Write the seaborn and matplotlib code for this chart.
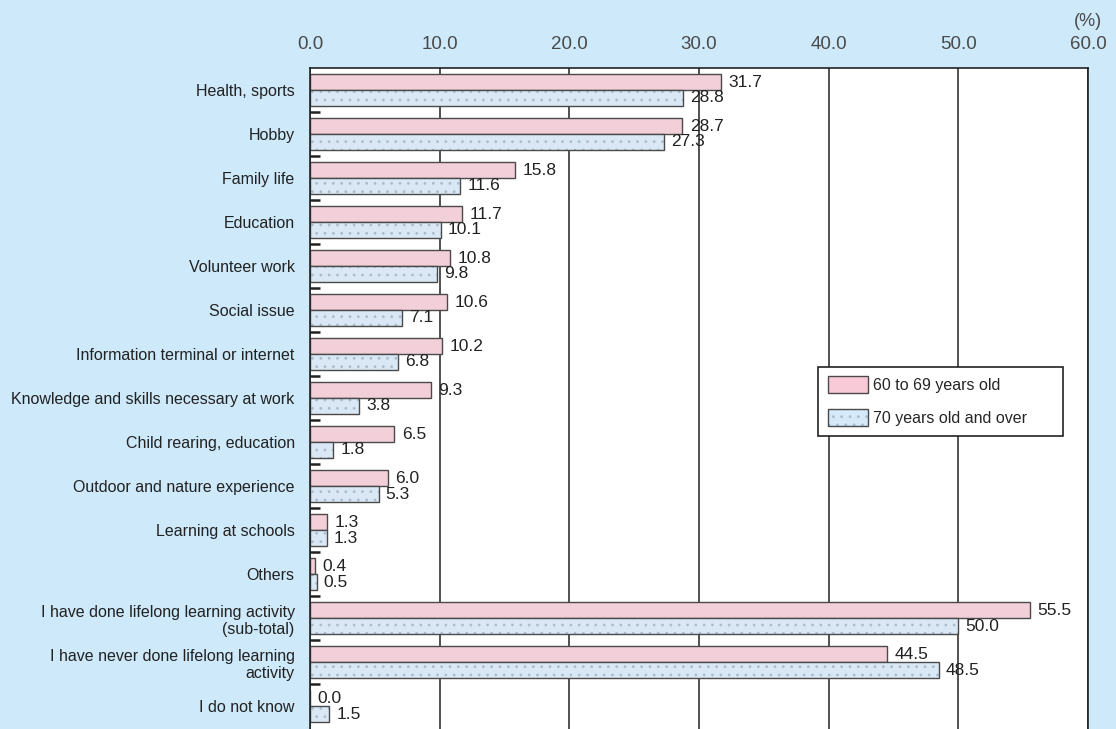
import numpy as np
import pandas as pd
import matplotlib
matplotlib.use("Agg")
import matplotlib.pyplot as plt
from matplotlib.patches import Patch, Rectangle
import seaborn as sns

categories = [
    "Health, sports",
    "Hobby",
    "Family life",
    "Education",
    "Volunteer work",
    "Social issue",
    "Information terminal or internet",
    "Knowledge and skills necessary at work",
    "Child rearing, education",
    "Outdoor and nature experience",
    "Learning at schools",
    "Others",
    "I have done lifelong learning activity\n(sub-total)",
    "I have never done lifelong learning\nactivity",
    "I do not know",
]
groups = ["60 to 69 years old", "70 years old and over"]
values_60s = [31.7, 28.7, 15.8, 11.7, 10.8, 10.6, 10.2, 9.3, 6.5, 6.0, 1.3, 0.4, 55.5, 44.5, 0.0]
values_70s = [28.8, 27.3, 11.6, 10.1, 9.8, 7.1, 6.8, 3.8, 1.8, 5.3, 1.3, 0.5, 50.0, 48.5, 1.5]
x_ticks = [0, 10, 20, 30, 40, 50, 60]

BG = "#cde9fa"
PINK = "#f8c9d7"
BLUE = "#d5e9f8"
DOT = "#a9bed0"
EDGE = "#4a4a4a"
TEXT = "#222222"

df = pd.DataFrame({
    "category": categories * 2,
    "group": [groups[0]] * len(categories) + [groups[1]] * len(categories),
    "value": values_60s + values_70s,
})

sns.set_theme(style="white")
plt.rcParams["font.family"] = ["Liberation Sans", "DejaVu Sans"]
plt.rcParams["hatch.linewidth"] = 0.8

fig, ax = plt.subplots(figsize=(11.16, 7.29), dpi=100)
fig.patch.set_facecolor(BG)
ax.set_facecolor("white")
fig.subplots_adjust(left=0.2778, right=0.9749, top=0.9067, bottom=0.0)

sns.barplot(
    data=df, y="category", x="value", hue="group",
    order=categories, hue_order=groups, palette=[PINK, BLUE],
    orient="h", width=0.72, edgecolor=EDGE, linewidth=1.0,
    legend=False, ax=ax,
)

# dotted fill for the older group, with a separate dark outline on top
for bar in ax.containers[1]:
    bar.set_hatch("..")
    bar.set_edgecolor(DOT)
    bar.set_linewidth(0)
    ax.add_patch(Rectangle(bar.get_xy(), bar.get_width(), bar.get_height(),
                           fill=False, edgecolor=EDGE, linewidth=1.0, zorder=bar.get_zorder() + 0.1))

# value labels at the end of each bar
for cont, vals, pad in zip(ax.containers, [values_60s, values_70s], [5.5, 5]):
    ax.bar_label(cont, labels=[f"{v:.1f}" for v in vals], padding=pad,
                 fontsize=12.5, color=TEXT)

ax.set_xlim(0, 60)
ax.set_ylim(14.52, -0.5)
ax.set_xticks(x_ticks)
ax.set_xticklabels([f"{t:.1f}" for t in x_ticks])
ax.xaxis.tick_top()
ax.tick_params(axis="x", length=0, pad=11, labelsize=13.5, labelcolor="#4a4a4a")
ax.tick_params(axis="y", which="major", length=0, pad=11, labelsize=11.5, labelcolor=TEXT)
ax.set_yticks(np.arange(0.5, len(categories) - 1, 1), minor=True)
ax.tick_params(axis="y", which="minor", direction="in", length=7, width=1.8, color=TEXT, left=True)
ax.set_xlabel("")
ax.set_ylabel("")

ax.grid(axis="x", color=TEXT, linewidth=1.1)
ax.set_axisbelow(True)
for side in ["top", "left", "right"]:
    ax.spines[side].set_visible(True)
    ax.spines[side].set_color(TEXT)
    ax.spines[side].set_linewidth(1.2)
ax.spines["bottom"].set_visible(False)

ax.text(1.0, 1.071, "(%)", transform=ax.transAxes, ha="center", va="center",
        fontsize=13, color="#4a4a4a")

handles = [
    Patch(facecolor=PINK, edgecolor=EDGE, linewidth=1.0),
    (Patch(facecolor=BLUE, edgecolor=DOT, hatch="..", linewidth=0),
     Patch(fill=False, edgecolor=EDGE, linewidth=1.0)),
]
leg = ax.legend(
    handles, groups, loc="upper left", bbox_to_anchor=(0.653, 0.548, 0.315, 0.0),
    mode="expand", fontsize=11.5, frameon=True, fancybox=False, framealpha=1,
    edgecolor=TEXT, borderpad=0.6, handlelength=2.5, handleheight=1.25,
    handletextpad=0.35, labelspacing=1.0, borderaxespad=0,
)
leg.get_frame().set_linewidth(1.2)

fig.savefig("out.png", dpi=100, facecolor=BG)
